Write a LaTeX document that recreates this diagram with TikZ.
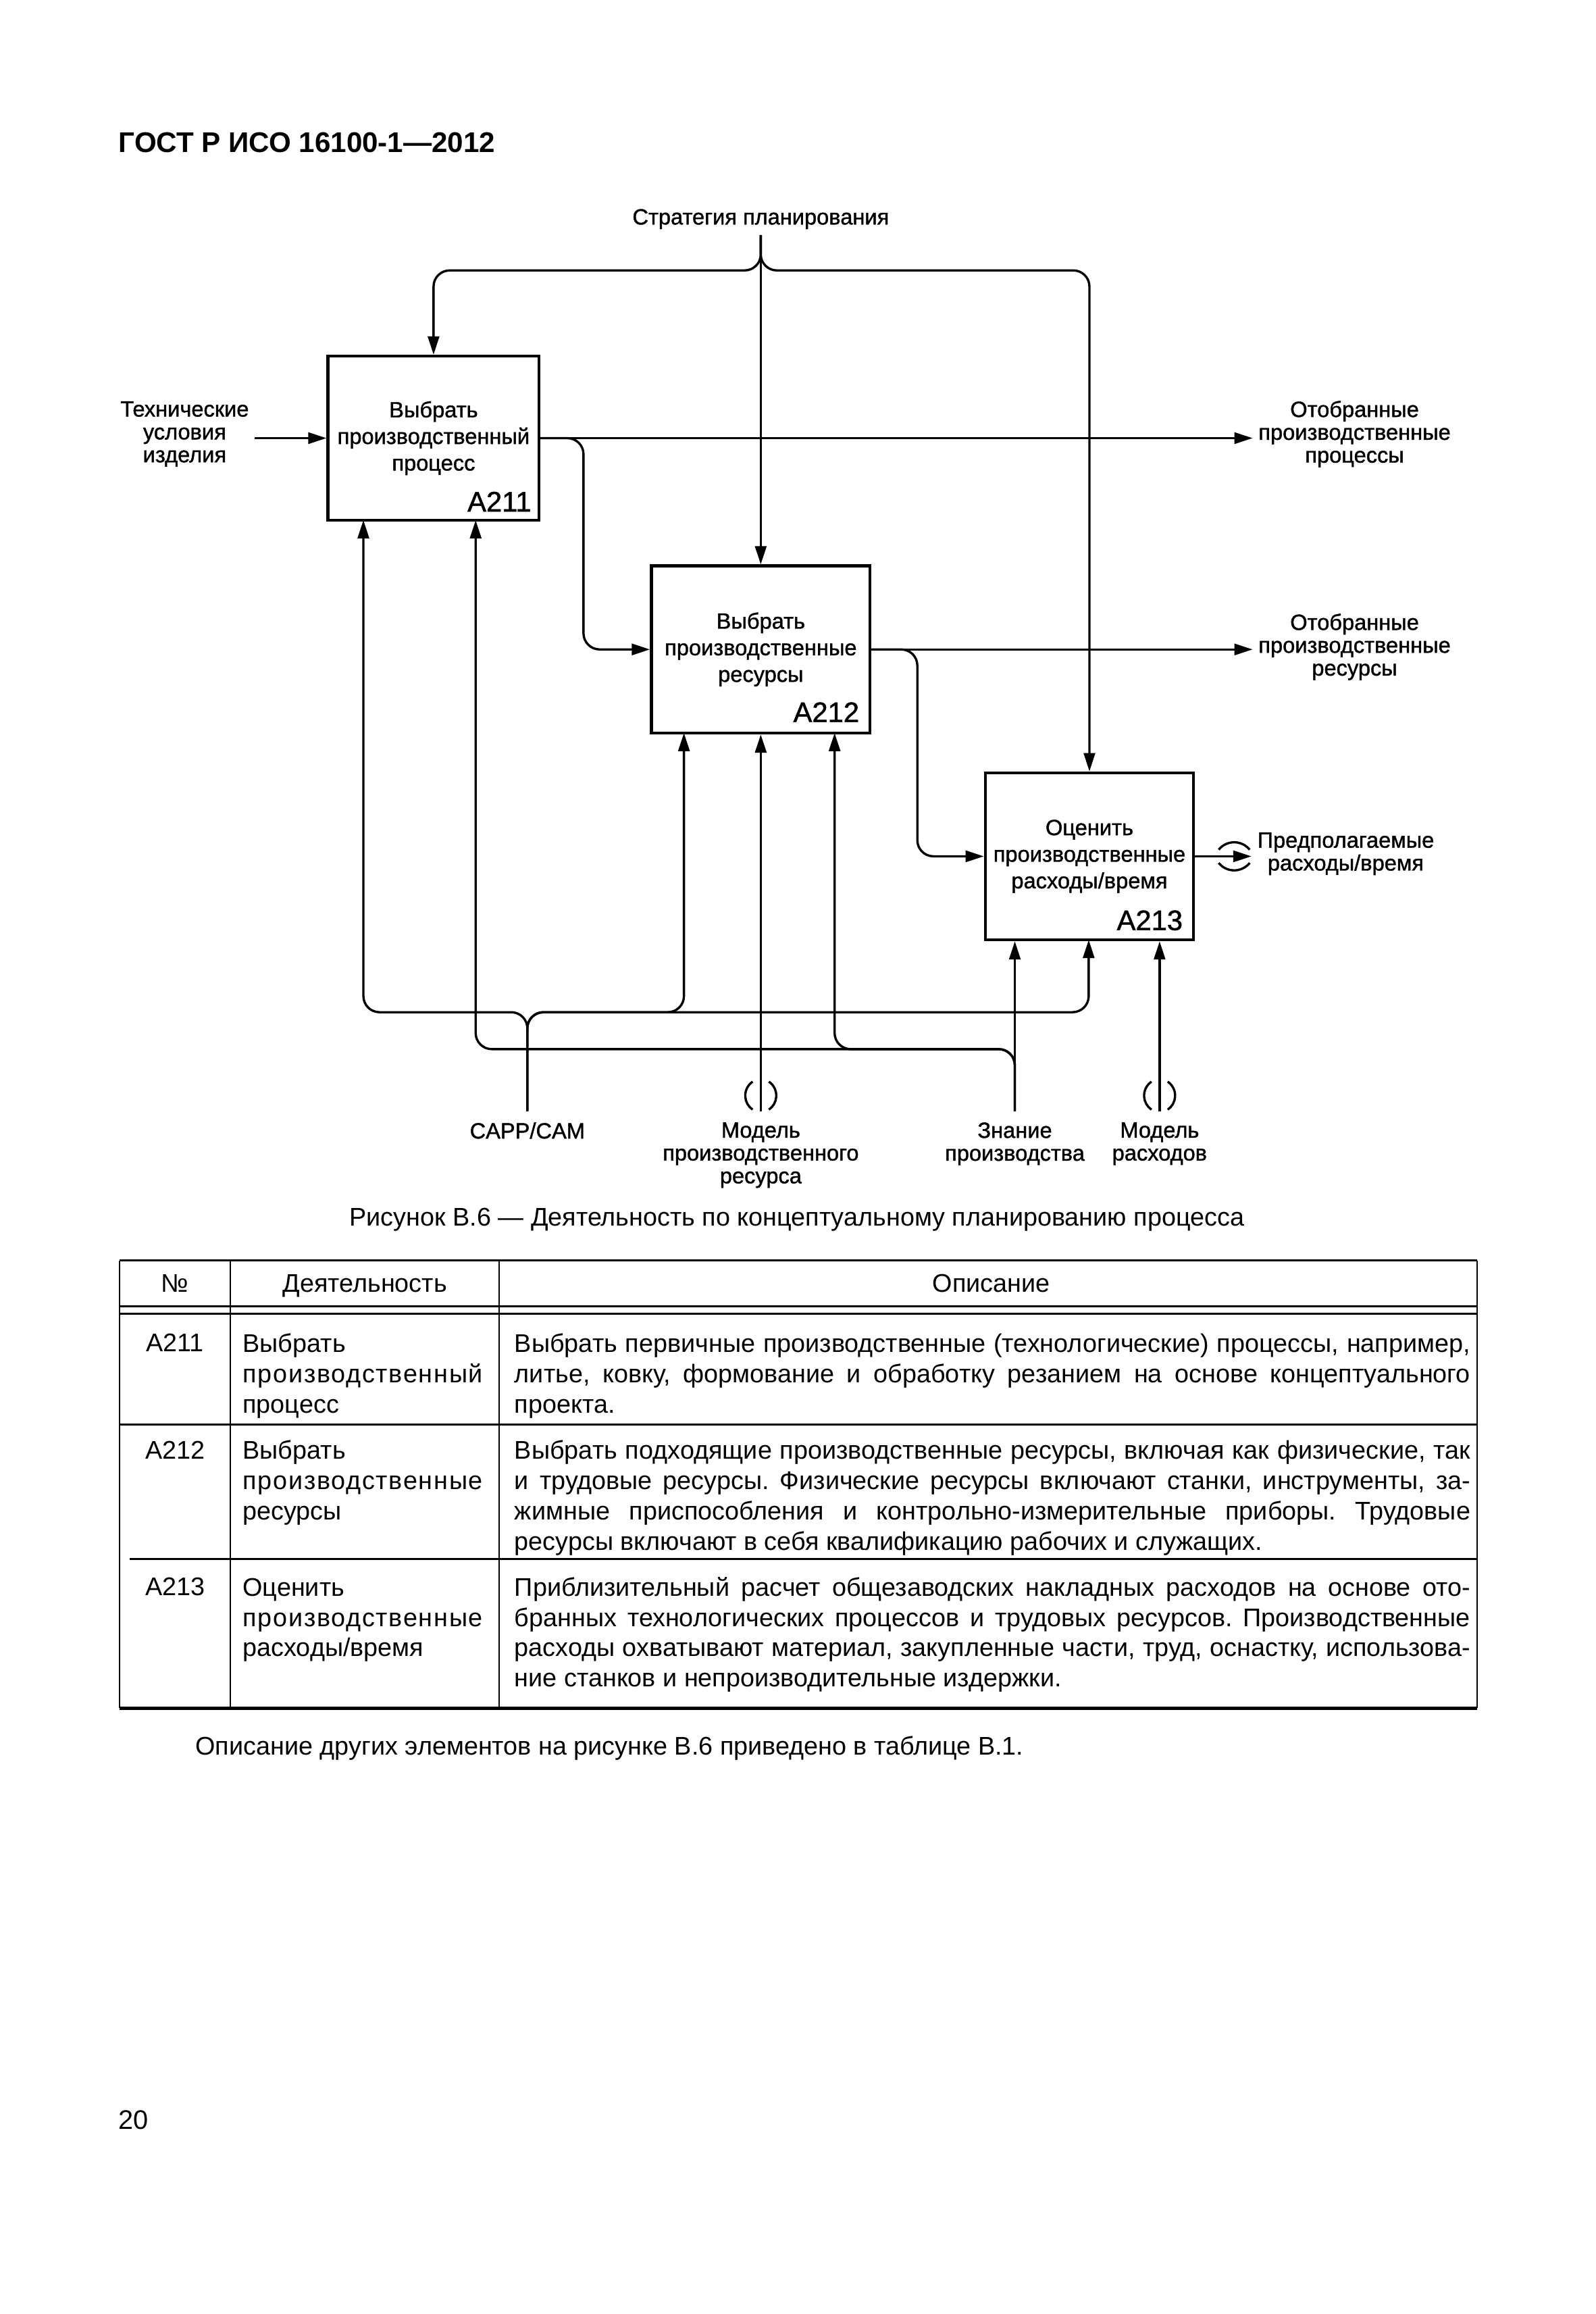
\documentclass[tikz,border=0pt]{standalone}
\usepackage{fontspec}
\setmainfont{Liberation Sans}
\newfontfamily\dfont[FakeBold=1.2]{Liberation Sans}
\usetikzlibrary{arrows.meta}
\newcommand\dlabfont{\dfont\fontsize{8.2}{8.5}\selectfont}
\newcommand\dboxfont{\dfont\fontsize{8.2}{9.9}\selectfont}
\newcommand\didfont{\dfont\fontsize{10.5}{12}\selectfont}
\newcommand\tblfont{\fontsize{9.5}{11.28}\selectfont}
\newlength\dw \setlength\dw{355.85pt}
\newcommand\jl[1]{\makebox[\dw][s]{\strut #1}}
\newcommand\spr[1]{{\addfontfeatures{LetterSpace=4.6}#1}}
\frenchspacing
\begin{document}
\begin{tikzpicture}[x=0.55pt,y=-0.55pt,
  box/.style={draw,line width=1.1pt,align=center,font=\dboxfont,inner sep=0},
  idl/.style={font=\didfont,inner sep=0,anchor=south east},
  lbl/.style={align=center,font=\dlabfont,inner xsep=2pt,inner ysep=2pt},
  blbl/.style={align=center,font=\dlabfont,inner xsep=2pt,inner ysep=4pt,anchor=north},
  wire/.style={line width=0.85pt},
  arr/.style={line width=0.85pt,-{Triangle[length=6.8pt,width=4.2pt]}},
  rc/.style={rounded corners=6pt},
  tun/.style={line width=0.85pt},
  ttxt/.style={font=\tblfont,inner sep=0},
  tbox/.style={font=\tblfont,inner sep=0,align=left,anchor=north west,yshift=7.9pt},
  thin/.style={line width=0.6pt},
  rule/.style={line width=0.8pt}]
\fill[white] (0,0) rectangle (1080,1566);
\useasboundingbox (0,0) rectangle (1080,1566);

% title
\node[anchor=base west,inner sep=0,font=\bfseries\fontsize{10.6}{12}\selectfont] (title) at (80,102.9) {ГОСТ Р ИСО 16100-1—2012};

% boxes
\node[box,minimum width=78.65pt,minimum height=61.05pt] (a211) at (293.5,296.5) {Выбрать\\производственный\\процесс};
\node[box,minimum width=81.4pt,minimum height=62.15pt] (a212) at (515,439.5) {Выбрать\\производственные\\ресурсы};
\node[box,minimum width=77.55pt,minimum height=62.15pt] (a213) at (737.5,579.5) {Оценить\\производственные\\расходы/время};
\node[idl] (a211id) at ([shift={(-6,-6.5)}]a211.south east) {A211};
\node[idl] (a212id) at ([shift={(-8,-8)}]a212.south east) {A212};
\node[idl] (a213id) at ([shift={(-8,-7)}]a213.south east) {A213};

% external labels
\node[lbl,anchor=south] (strat) at (515,159) {Стратегия планирования};
\node[lbl] (tech) at (125,293.7) {Технические\\условия\\изделия};
\node[lbl] (out1) at (917,293.7) {Отобранные\\производственные\\процессы};
\node[lbl] (out2) at (917,437.8) {Отобранные\\производственные\\ресурсы};
\node[lbl] (out3) at (911,577.8) {Предполагаемые\\расходы/время};
\node[blbl] (capp) at (357,752) {CAPP/CAM};
\node[blbl] (mres) at (515,752) {Модель\\производственного\\ресурса};
\node[blbl] (zn) at (687,752) {Знание\\производства};
\node[blbl] (mcost) at (785,752) {Модель\\расходов};

% helper coordinates
\coordinate (ytop) at (0,183);
\coordinate (ybus1) at (0,685);
\coordinate (ybus2) at (0,710);
\coordinate (xb1) at (395,0);
\coordinate (xb2) at (621,0);
\coordinate (a211c1) at (246,352);
\coordinate (a211c2) at (322,352);
\coordinate (a212c1) at (463,496);
\coordinate (a212c3) at (565,496);
\coordinate (a213c2) at (737,636);

% control: strategy
\draw[arr] (strat.south) -- (strat.south |- a212.north);
\draw[arr,rc] (strat.south) -- (strat.south |- ytop) -| (a211.north);
\draw[arr,rc] (strat.south) -- (strat.south |- ytop) -| (a213.north);

% input and outputs
\draw[arr] (tech.east |- a211.west) -- (a211.west);
\draw[arr] (a211.east) -- (out1.west |- a211.east);
\draw[arr,rc] (a211.east) -| (xb1 |- a212.west) -- (a212.west);
\draw[arr] (a212.east) -- (out2.west |- a212.east);
\draw[arr,rc] (a212.east) -| (xb2 |- a213.west) -- (a213.west);
\draw[arr] (a213.east) -- (out3.west |- a213.east);
\draw[tun] ([shift={(16,-4.5)}]a213.east) arc[start angle=141,end angle=39,radius=7.44pt];
\draw[tun] ([shift={(16,4.5)}]a213.east) arc[start angle=219,end angle=321,radius=7.44pt];

% mechanisms: CAPP/CAM
\draw[arr,rc] (capp.north) -- (capp.north |- ybus1) -- (a211c1 |- ybus1) -- (a211c1);
\draw[arr,rc] (capp.north) -- (capp.north |- ybus1) -- (a212c1 |- ybus1) -- (a212c1);
\draw[arr,rc] (capp.north) -- (capp.north |- ybus1) -- (a213c2 |- ybus1) -- (a213c2);

% mechanisms: knowledge
\draw[arr] (zn.north) -- (zn.north |- a213.south);
\draw[arr,rc] (zn.north) -- (zn.north |- ybus2) -- (a212c3 |- ybus2) -- (a212c3);
\draw[arr,rc] (zn.north) -- (zn.north |- ybus2) -- (a211c2 |- ybus2) -- (a211c2);

% mechanisms: models (tunnelled)
\draw[arr] (mres.north) -- (mres.north |- a212.south);
\draw[arr] (mcost.north) -- (mcost.north |- a213.south);
\draw[tun] ([shift={(-5.5,-20)}]mres.north) arc[start angle=124.3,end angle=235.7,radius=6.3pt];
\draw[tun] ([shift={(5.5,-20)}]mres.north) arc[start angle=55.7,end angle=-55.7,radius=6.3pt];
\draw[tun] ([shift={(-5.5,-20)}]mcost.north) arc[start angle=124.3,end angle=235.7,radius=6.3pt];
\draw[tun] ([shift={(5.5,-20)}]mcost.north) arc[start angle=55.7,end angle=-55.7,radius=6.3pt];

% caption
\node[ttxt,anchor=base] (caption) at (539.5,829.7) {Рисунок В.6 — Деятельность по концептуальному планированию процесса};

% table rules
\draw[rule] (81,853) -- (1000,853);
\draw[thin] (81,884) -- (1000,884);
\draw[thin] (81,889) -- (1000,889);
\draw[rule] (81,964) -- (1000,964);
\draw[rule] (88,1055) -- (1000,1055);
\draw[line width=1.1pt] (81,1156) -- (1000,1156);
\draw[thin] (81,853) -- (81,1156);
\draw[thin] (156,853) -- (156,1156);
\draw[thin] (338,853) -- (338,1156);
\draw[thin] (1000,853) -- (1000,1156);

% table header
\node[ttxt,anchor=base] (hno) at (118.5,874.5) {№};
\node[ttxt,anchor=base] (hact) at (247,874.5) {Деятельность};
\node[ttxt,anchor=base] (hdesc) at (671,874.5) {Описание};

% row A211
\node[ttxt,anchor=base] (n1) at (118.5,914.7) {A211};
\node[tbox] (act1) at (164,914.7) {\strut Выбрать\\\strut \spr{производственный}\\\strut процесс};
\node[tbox] (d1) at (348,914.7) {\jl{Выбрать первичные производственные (технологические) процессы, например,}\\\jl{литье, ковку, формование и обработку резанием на основе концептуального}\\\strut проекта.};

% row A212
\node[ttxt,anchor=base] (n2) at (118.5,987.2) {A212};
\node[tbox] (act2) at (164,987.2) {\strut Выбрать\\\strut \spr{производственные}\\\strut ресурсы};
\node[tbox] (d2) at (348,987.2) {\jl{Выбрать подходящие производственные ресурсы, включая как физические, так}\\\jl{и трудовые ресурсы. Физические ресурсы включают станки, инструменты, за-}\\\jl{жимные приспособления и контрольно-измерительные приборы. Трудовые}\\\strut ресурсы включают в себя квалификацию рабочих и служащих.};

% row A213
\node[ttxt,anchor=base] (n3) at (118.5,1079.7) {A213};
\node[tbox] (act3) at (164,1079.7) {\strut Оценить\\\strut \spr{производственные}\\\strut расходы/время};
\node[tbox] (d3) at (348,1079.7) {\jl{Приблизительный расчет общезаводских накладных расходов на основе ото-}\\\jl{бранных технологических процессов и трудовых ресурсов. Производственные}\\\jl{расходы охватывают материал, закупленные части, труд, оснастку, использова-}\\\strut ние станков и непроизводительные издержки.};

% footer
\node[ttxt,anchor=base west] (foot) at (132,1187.7) {Описание других элементов на рисунке В.6 приведено в таблице В.1.};
\node[ttxt,anchor=base west,font=\fontsize{10}{12}\selectfont] (page) at (80,1441) {20};
\end{tikzpicture}
\end{document}
